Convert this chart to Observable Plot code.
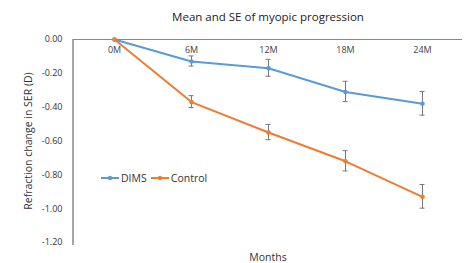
<!DOCTYPE html>
<html><head><meta charset="utf-8">
<script src="https://cdn.jsdelivr.net/npm/d3@7"></script>
<script src="https://cdn.jsdelivr.net/npm/@observablehq/plot@0.6"></script>
<style>
body{margin:0;background:#fff;font-family:"Open Sans",sans-serif;}
#wrap{position:relative;width:467px;height:263px;}
#legend{position:absolute;left:101px;top:171px;font-size:10.5px;color:#333;display:flex;align-items:center;gap:4px;z-index:2;}
#legend span{display:flex;align-items:center;gap:2px;}
</style></head>
<body><div id="wrap"><div id="legend"></div></div>
<script>
const months = ["0M","6M","12M","18M","24M"];
const dimsMean = [0, -0.13, -0.17, -0.31, -0.38];
const dimsSE = [0, 0.03, 0.05, 0.06, 0.07];
const controlMean = [0, -0.37, -0.55, -0.72, -0.93];
const controlSE = [0, 0.035, 0.045, 0.06, 0.07];
const seriesNames = ["DIMS","Control"];
const colors = ["#5B9BD5","#ED7D31"];
const yTicks = [0,-0.2,-0.4,-0.6,-0.8,-1.0,-1.2];

const rows = [];
months.forEach((m,i)=>{
  rows.push({month:m, series:"DIMS", mean:dimsMean[i], se:dimsSE[i]});
});
months.forEach((m,i)=>{
  rows.push({month:m, series:"Control", mean:controlMean[i], se:controlSE[i]});
});
const errRows = rows.filter(d=>d.se>0);

const plot = Plot.plot({
  width:467, height:263,
  marginTop:39, marginBottom:21, marginLeft:73, marginRight:5,
  style:{fontFamily:"Open Sans, sans-serif", fontSize:"9px", color:"#333"},
  x:{type:"point", domain:months, padding:0.5, axis:null},
  y:{domain:[-1.2,0], ticks:yTicks, tickFormat:d=>d.toFixed(2), tickSize:0, tickPadding:11,
     label:"Refraction change in SER (D)", labelAnchor:"center", labelArrow:"none", labelOffset:49},
  color:{domain:seriesNames, range:colors},
  marks:[
    Plot.ruleY([0],{stroke:"#888", strokeWidth:1}),
    Plot.text(months,{x:d=>d, y:0, dy:11, fontSize:9, fill:"#444"}),
    Plot.ruleX(errRows,{x:"month", y1:d=>d.mean-d.se, y2:d=>d.mean+d.se, stroke:"#777", strokeWidth:1}),
    Plot.line(rows,{x:"month", y:"mean", stroke:"series", strokeWidth:2}),
    Plot.dot(rows,{x:"month", y:"mean", fill:"series", r:2.3}),
    Plot.text(["Mean and SE of myopic progression"],{frameAnchor:"top", dy:-27, fontSize:11.5, fill:"#222"}),
    Plot.text(["Months"],{frameAnchor:"bottom", dy:18, fontSize:10.5, fill:"#333"})
  ]
});
document.getElementById("wrap").prepend(plot);
plot.style.position="absolute"; plot.style.left="0"; plot.style.top="0";

const svg = d3.select(plot);
// enlarge y axis label
svg.selectAll("[aria-label='y-axis label']").attr("font-size","10.5px");
const xs = plot.scale("x"), ys = plot.scale("y");
// left axis line
svg.append("line").attr("x1",73).attr("x2",73).attr("y1",ys.apply(0)).attr("y2",ys.apply(-1.2)+3)
  .attr("stroke","#888").attr("stroke-width",1.5);
// error bar caps
const g = svg.append("g").attr("stroke","#777").attr("stroke-width",1);
errRows.forEach(d=>{
  const cx = xs.apply(d.month);
  [d.mean-d.se, d.mean+d.se].forEach(v=>{
    g.append("line").attr("x1",cx-2.5).attr("x2",cx+2.5).attr("y1",ys.apply(v)).attr("y2",ys.apply(v));
  });
});

const leg = document.getElementById("legend");
seriesNames.forEach((s,i)=>{
  const sp = document.createElement("span");
  sp.innerHTML = `<svg width="18" height="8"><line x1="0" x2="18" y1="4" y2="4" stroke="${colors[i]}" stroke-width="2"/><circle cx="9" cy="4" r="2.2" fill="${colors[i]}"/></svg>${s}`;
  leg.appendChild(sp);
});
</script></body></html>
